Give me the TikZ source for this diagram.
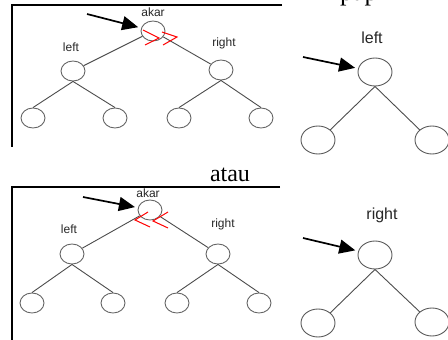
\documentclass[tikz,border=0pt]{standalone}
\usepackage{fontspec}
\setmainfont{Liberation Sans}
\newfontfamily\seriffont{Liberation Serif}
\usetikzlibrary{arrows.meta,shapes.geometric}
\tikzset{
  sn/.style={ellipse, draw=black!60, line width=0.9pt, minimum width=24pt, minimum height=20pt, inner sep=0pt},
  bn/.style={ellipse, draw=black!65, line width=0.9pt, minimum width=34pt, minimum height=28pt, inner sep=0pt},
  edge/.style={draw=black!70, line width=0.9pt},
  lbl/.style={inner sep=0pt, font=\fontsize{12}{14}\selectfont, text=black!85},
  biglbl/.style={inner sep=0pt, font=\fontsize{16}{18}\selectfont, text=black!85},
  bigarrow/.style={line width=1.7pt, -{Triangle[length=16pt,width=14pt]}, shorten >=3pt},
  redmark/.style={draw=red, line width=1pt},
  frame/.style={line width=1.4pt}
}
\begin{document}
\begin{tikzpicture}[x=1pt,y=-1pt]
\useasboundingbox (0,0) rectangle (448,340);
\begin{scope}
\clip (0,0) rectangle (448,340);
% cut-off text at top
\node[anchor=base west, inner sep=0pt, font=\seriffont\fontsize{26}{28}\selectfont] (cut) at (340,0) {pap};

% ---- top-left panel ----
\draw[frame] (282,5) -- (12,5) -- (12,147);
\node[sn] (r1) at (153,31) {};
\node[sn] (l1) at (73,71) {};
\node[sn] (g1) at (221,70) {};
\node[sn] (l1a) at (33,118) {};
\node[sn] (l1b) at (115,118) {};
\node[sn] (g1a) at (179,118) {};
\node[sn] (g1b) at (261,118) {};
\node[lbl] (t1akar) at (153,12) {akar};
\node[lbl] (t1left) at (71,47) {left};
\node[lbl] (t1right) at (224,43) {right};
\draw[edge] (r1) -- (l1);
\draw[edge] (r1) -- (g1);
\draw[edge] (l1.south) -- (l1a.north);
\draw[edge] (l1.south) -- (l1b.north);
\draw[edge] (g1.south) -- (g1a.north);
\draw[edge] (g1.south) -- (g1b.north);
\coordinate (a1) at (87,14);
\draw[bigarrow] (a1) -- (r1);
\draw[redmark] (143,30) -- (159,38) -- (145,45);
\draw[redmark] (162,32) -- (177,37) -- (163,45);

% ---- "atau" ----
\node[anchor=base, inner sep=0pt, font=\seriffont\fontsize{24}{26}\selectfont] (atau) at (230,181) {atau};

% ---- bottom-left panel ----
\draw[frame] (280,187) -- (12,187) -- (12,340);
\node[sn] (r2) at (150,210) {};
\node[sn] (l2) at (72,254) {};
\node[sn] (g2) at (218,254) {};
\node[sn] (l2a) at (32,303) {};
\node[sn] (l2b) at (113,303) {};
\node[sn] (g2a) at (177,303) {};
\node[sn] (g2b) at (259,303) {};
\node[lbl] (t2akar) at (148,193) {akar};
\node[lbl] (t2left) at (69,229) {left};
\node[lbl] (t2right) at (223,224) {right};
\draw[edge] (r2) -- (l2);
\draw[edge] (r2) -- (g2);
\draw[edge] (l2.south) -- (l2a.north);
\draw[edge] (l2.south) -- (l2b.north);
\draw[edge] (g2.south) -- (g2a.north);
\draw[edge] (g2.south) -- (g2b.north);
\coordinate (a2) at (83,197);
\draw[bigarrow] (a2) -- (r2);
\draw[redmark] (148,212) -- (135,220) -- (150,227);
\draw[redmark] (168,212) -- (153,221) -- (168,228);

% ---- top-right panel ----
\node[bn] (r3) at (375,72) {};
\node[bn] (r3a) at (318,140) {};
\node[bn] (r3b) at (432,140) {};
\node[biglbl] (t3) at (372,38) {left};
\draw[edge] (r3.south) -- (r3a.north east);
\draw[edge] (r3.south) -- (r3b.north west);
\coordinate (a3) at (303,57);
\draw[bigarrow] (a3) -- (r3);

% ---- bottom-right panel ----
\node[bn] (r4) at (375,255) {};
\node[bn] (r4a) at (318,323) {};
\node[bn] (r4b) at (432,322) {};
\node[biglbl] (t4) at (382,215) {right};
\draw[edge] (r4.south) -- (r4a.north east);
\draw[edge] (r4.south) -- (r4b.north west);
\coordinate (a4) at (303,238);
\draw[bigarrow] (a4) -- (r4);
\end{scope}
\end{tikzpicture}
\end{document}
